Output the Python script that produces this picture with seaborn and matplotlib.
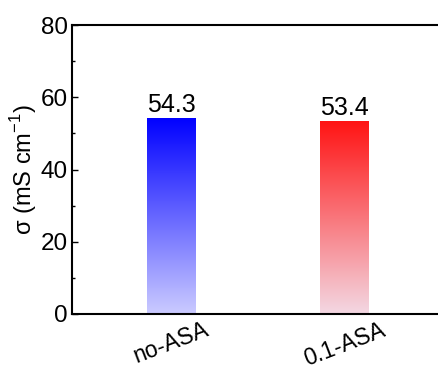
import numpy as np
import pandas as pd
import matplotlib
matplotlib.use("Agg")
import matplotlib.pyplot as plt
from matplotlib.colors import LinearSegmentedColormap
from matplotlib.ticker import MultipleLocator
import seaborn as sns

# Ionic conductivity of the two electrolytes
samples = ["no-ASA", "0.1-ASA"]
conductivity = [54.3, 53.4]
value_labels = ["54.3", "53.4"]

# Gradient colours (top -> bottom) for each bar
top_colors = ["#0000ff", "#ff1414"]
bottom_colors = ["#cbcbff", "#f3d8e3"]

sns.set_theme(style="ticks")
plt.rcParams["font.family"] = ["Liberation Sans", "DejaVu Sans"]

df = pd.DataFrame({"sample": samples, "sigma": conductivity})

fig = plt.figure(figsize=(4.38, 3.71), dpi=100)
ax = fig.add_axes([72 / 438, 1 - 314 / 371, 1 - 72 / 438 + 0.01, (314 - 25) / 371])

sns.barplot(data=df, x="sample", y="sigma", ax=ax, width=0.282,
            color="white", edgecolor="none", linewidth=0)

XLIM = (-0.573, 1.562)
ax.set_xlim(*XLIM)
ax.set_ylim(0, 80)

# Fill each bar with a vertical gradient clipped to its rectangle
for patch, top, bottom, lab in zip(ax.patches, top_colors, bottom_colors, value_labels):
    x0, y0 = patch.get_x(), patch.get_y()
    w, h = patch.get_width(), patch.get_height()
    cmap = LinearSegmentedColormap.from_list("g", [bottom, top])
    grad = np.linspace(0, 1, 256).reshape(-1, 1)
    im = ax.imshow(grad, cmap=cmap, aspect="auto", origin="lower",
                   extent=[x0, x0 + w, y0, y0 + h], zorder=2)
    im.set_clip_path(patch)
    patch.set_facecolor("none")
    ax.text(x0 + w / 2, y0 + h + 0.3, lab, ha="center", va="bottom",
            fontsize=18, color="black", zorder=3)

ax.set_xlim(*XLIM)
ax.set_ylim(0, 80)

ax.yaxis.set_major_locator(MultipleLocator(20))
ax.yaxis.set_minor_locator(MultipleLocator(10))
ax.tick_params(axis="y", which="major", direction="in", length=4, width=1,
               labelsize=17.5, pad=3, color="black", labelcolor="black")
ax.tick_params(axis="y", which="minor", direction="in", length=2, width=1, color="black")
ax.tick_params(axis="x", which="both", length=0, labelsize=16.5, pad=3, labelcolor="black")
for lbl in ax.get_xticklabels():
    lbl.set_rotation(21)
    lbl.set_ha("center")

ax.set_xlabel("")
ax.set_ylabel(r"σ (mS cm$^{\mathregular{-1}}$)", fontsize=17, color="black", labelpad=1)

for side in ["left", "bottom", "top"]:
    ax.spines[side].set_color("black")
    ax.spines[side].set_linewidth(1.5)
ax.spines["right"].set_visible(False)

fig.savefig("out.png", dpi=100)
